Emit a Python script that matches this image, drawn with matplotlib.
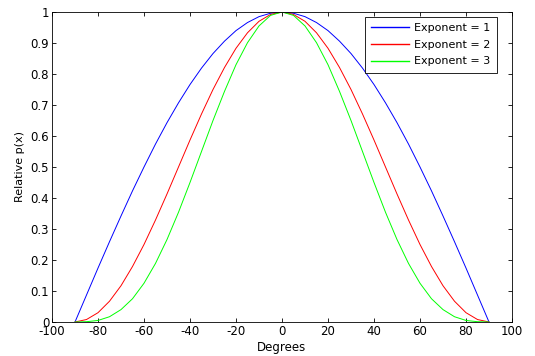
import matplotlib
matplotlib.use("Agg")
import matplotlib.pyplot as plt

# angles in degrees
degrees = [-90, -85, -80, -75, -70, -65, -60, -55, -50, -45, -40, -35, -30,
           -25, -20, -15, -10, -5, 0, 5, 10, 15, 20, 25, 30, 35, 40, 45,
           50, 55, 60, 65, 70, 75, 80, 85, 90]

half1 = [0.0, 0.087, 0.174, 0.259, 0.342, 0.423, 0.5, 0.574, 0.643, 0.707,
         0.766, 0.819, 0.866, 0.906, 0.940, 0.966, 0.985, 0.996]
half2 = [0.0, 0.008, 0.030, 0.067, 0.117, 0.179, 0.25, 0.329, 0.413, 0.5,
         0.587, 0.671, 0.75, 0.821, 0.883, 0.933, 0.970, 0.992]
half3 = [0.0, 0.001, 0.005, 0.017, 0.040, 0.075, 0.125, 0.189, 0.266, 0.354,
         0.450, 0.550, 0.650, 0.744, 0.830, 0.901, 0.955, 0.989]

exp1 = half1 + [1.0] + half1[::-1]
exp2 = half2 + [1.0] + half2[::-1]
exp3 = half3 + [1.0] + half3[::-1]

labels = ["Exponent = 1", "Exponent = 2", "Exponent = 3"]
colors = ["#0000ff", "#ff0000", "#00ff00"]

plt.rcParams["font.family"] = ["DejaVu Sans"]
plt.rcParams["font.size"] = 8.5
plt.rcParams["axes.unicode_minus"] = False

fig = plt.figure(figsize=(5.35, 3.56), dpi=100)
ax = fig.add_axes([52 / 535, 34 / 356, 460 / 535, 310 / 356])

for ys, lab, c in zip([exp1, exp2, exp3], labels, colors):
    ax.plot(degrees, ys, color=c, linewidth=0.7, label=lab)

ax.set_xlim(-100, 100)
ax.set_ylim(0, 1)
ax.set_xticks(range(-100, 101, 20))
ax.set_yticks([i / 10 for i in range(11)])
ax.set_yticklabels(["0", "0.1", "0.2", "0.3", "0.4", "0.5", "0.6", "0.7",
                    "0.8", "0.9", "1"])
ax.tick_params(direction="in", top=True, right=True, length=3, width=0.6, pad=2)
for s in ax.spines.values():
    s.set_linewidth(0.6)
ax.set_xlabel("Degrees", labelpad=2)
ax.set_ylabel("Relative p(x)", labelpad=4, fontsize=8)

leg = ax.legend(loc="upper right", bbox_to_anchor=(0.967, 0.984),
                borderaxespad=0, fancybox=False, framealpha=1,
                edgecolor="black", handlelength=3.4, handletextpad=0.5,
                labelspacing=0.6, borderpad=0.55, fontsize=8)
leg.get_frame().set_linewidth(0.6)
for h in leg.get_lines():
    h.set_linewidth(1.0)

fig.savefig("out.png", dpi=100)
